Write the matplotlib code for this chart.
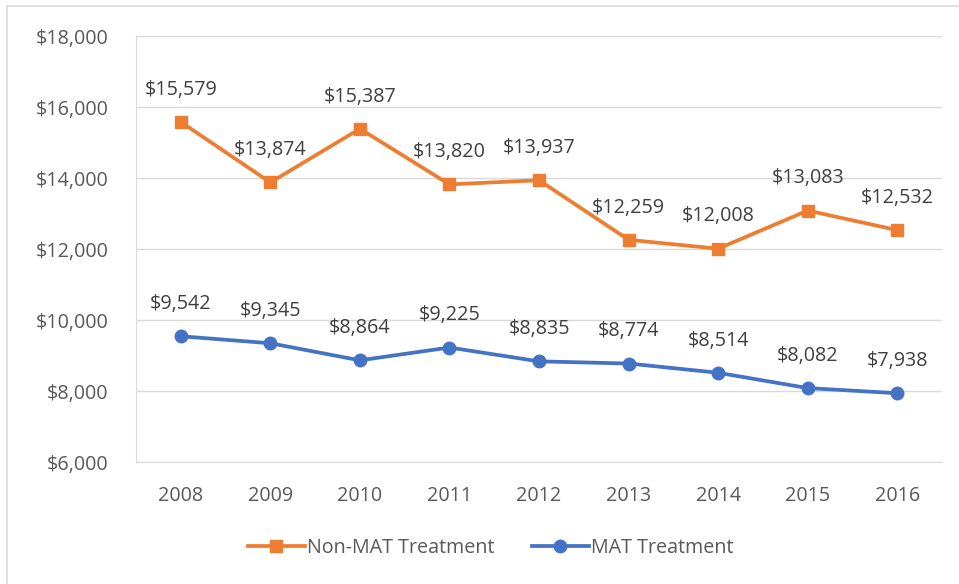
import numpy as np
import matplotlib.pyplot as plt
from matplotlib.patches import Rectangle
from matplotlib.ticker import FuncFormatter

# Datos
anios = ["2008", "2009", "2010", "2011", "2012", "2013", "2014", "2015", "2016"]
no_mat = [15579, 13874, 15387, 13820, 13937, 12259, 12008, 13083, 12532]
mat = [9542, 9345, 8864, 9225, 8835, 8774, 8514, 8082, 7938]

plt.rcParams['font.family'] = ['Open Sans', 'DejaVu Sans']
gris = '#595959'
fs = 14.2

fig = plt.figure(figsize=(9.59, 5.84), dpi=100)
ax = fig.add_axes([136/959, 1-462/584, (942-136)/959, (462-36)/584])

# borde del área del gráfico
fig.patches.append(Rectangle((7/959, -0.1), 2, 1.1 - 6/584, transform=fig.transFigure,
                             fill=False, edgecolor='#d9d9d9', linewidth=1.2))

x = np.arange(len(anios))
ax.plot(x, no_mat, '-s', color='#ED7D31', linewidth=2.7, markersize=9, label='Non-MAT Treatment')
ax.plot(x, mat, '-o', color='#4472C4', linewidth=2.7, markersize=9, label='MAT Treatment')

for serie in (no_mat, mat):
    for xi, v in zip(x, serie):
        ax.annotate("${:,}".format(v), xy=(xi, v), xytext=(0, 16), textcoords='offset points',
                    ha='center', va='bottom', fontsize=fs, color='#404040')

ax.set_xlim(-0.5, len(anios) - 0.5)
ax.set_ylim(6000, 18000)
ax.set_yticks(np.arange(6000, 18001, 2000))
ax.yaxis.set_major_formatter(FuncFormatter(lambda v, p: "${:,.0f}".format(v)))
ax.set_xticks(x)
ax.set_xticklabels(anios)
ax.grid(axis='y', color='#d9d9d9', linewidth=1)
ax.set_axisbelow(True)
for s in ['top', 'right']:
    ax.spines[s].set_visible(False)
for s in ['left', 'bottom']:
    ax.spines[s].set_color('#d9d9d9')
ax.tick_params(length=0, labelsize=fs, colors=gris)
ax.tick_params(axis='y', pad=20)
ax.tick_params(axis='x', pad=17)

ax.legend(loc='center', bbox_to_anchor=(0.44, -0.202), ncol=2, frameon=False, fontsize=fs,
          labelcolor=gris, handlelength=2.9, handletextpad=0.1, columnspacing=1.9)

plt.savefig('out.png', dpi=100)
